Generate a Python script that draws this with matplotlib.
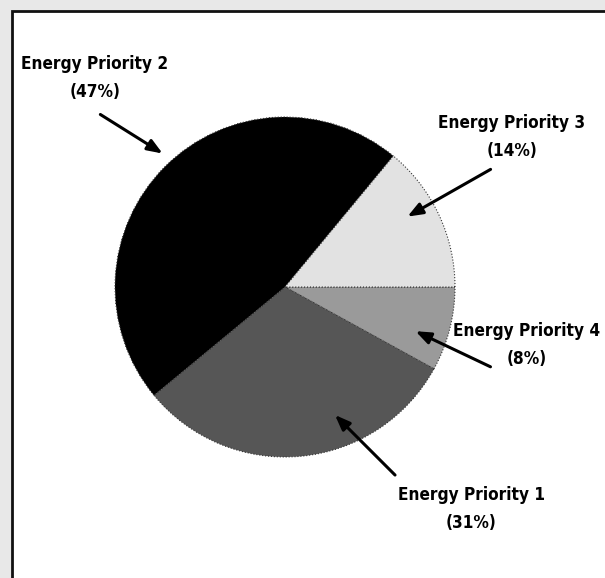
import matplotlib
matplotlib.use("Agg")
import matplotlib.pyplot as plt
from matplotlib.patches import Rectangle

# slices in drawing order (clockwise from 3 o'clock)
labels = ["Energy Priority 4", "Energy Priority 1", "Energy Priority 2", "Energy Priority 3"]
shares = [8, 31, 47, 14]
colors = ["#9a9a9a", "#565656", "#000000", "#e2e2e2"]

plt.rcParams['font.family'] = ['DejaVu Sans']

W, H = 605, 578
fig = plt.figure(figsize=(W / 100, H / 100), dpi=100, facecolor="#e8e8e8")
ax = fig.add_axes([0, 0, 1, 1])

# white panel with dark frame
ax.add_patch(Rectangle((12, -5), W, H - 11 + 5, facecolor="white",
                       edgecolor="#111111", linewidth=2, zorder=0))

ax.pie(shares, colors=colors, startangle=0, counterclock=False,
       center=(285, H - 287), radius=170, frame=True,
       wedgeprops=dict(edgecolor="#333333", linewidth=0.8, linestyle=":"))
ax.set_xlim(0, W)
ax.set_ylim(0, H)
ax.set_aspect("equal")
ax.axis("off")

# label centre, arrow tail, arrow tip (pixels from top-left)
notes = {
    "Energy Priority 2": ((95, 78), (98, 113), (165, 155)),
    "Energy Priority 3": ((512, 137), (493, 168), (405, 218)),
    "Energy Priority 4": ((527, 345), (493, 368), (413, 330)),
    "Energy Priority 1": ((471, 509), (397, 477), (333, 413)),
}

for lab, pct in zip(labels, shares):
    (tx, ty), (ax0, ay0), (ax1, ay1) = notes[lab]
    ax.text(tx, H - ty, f"{lab}\n({pct}%)", ha="center", va="center",
            fontsize=12.3, fontweight="bold", fontstretch="condensed",
            linespacing=1.75)
    ax.annotate("", xy=(ax1, H - ay1), xytext=(ax0, H - ay0),
                arrowprops=dict(arrowstyle="-|>,head_length=0.9,head_width=0.35",
                                color="black", lw=2.2))

fig.savefig("out.png", dpi=100, facecolor=fig.get_facecolor())
